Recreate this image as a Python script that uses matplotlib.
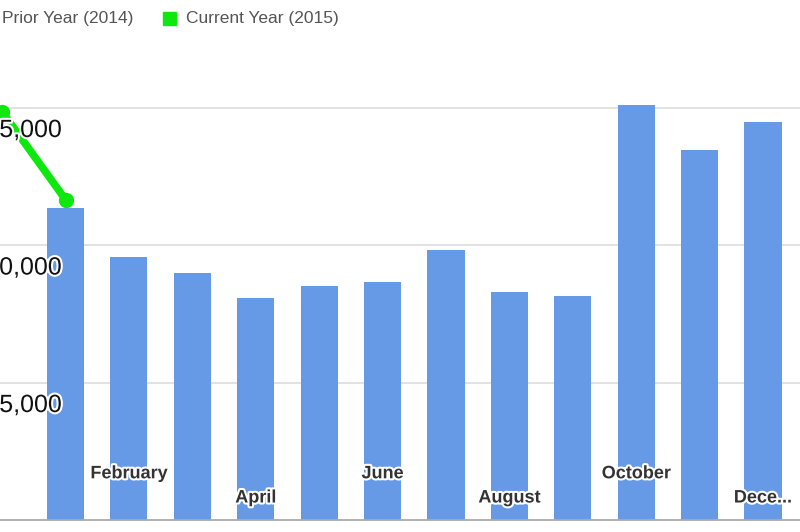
import matplotlib
matplotlib.use("Agg")
import matplotlib.pyplot as plt
import matplotlib.patheffects as pe
from matplotlib.patches import Rectangle
import numpy as np

plt.rcParams["font.family"] = ["Liberation Sans", "DejaVu Sans"]

# data
months = ["January", "February", "March", "April", "May", "June",
          "July", "August", "September", "October", "November", "December"]
shown_labels = ["", "February", "", "April", "", "June",
                "", "August", "", "October", "", "Dece..."]
prior_year = [11350, 9560, 8980, 8070, 8510, 8650,
              9820, 8290, 8150, 15100, 13450, 14480]
current_year = [14850, 11650]          # last point before January, then January
y_ticks = [5000, 10000, 15000]
y_tick_labels = ["5,000", "10,000", "15,000"]

W, H = 800, 532
fig = plt.figure(figsize=(W / 100, H / 100), dpi=100)
ax = fig.add_axes([0, 12 / H, 1, 520 / H])

x = np.arange(len(months))
ax.bar(x, prior_year, width=0.585, color="#6699e6", zorder=2)

xc = np.arange(len(current_year)) - 1
ax.plot(xc, current_year, color="#0ee80e", lw=5.5, marker="o", ms=10,
        solid_capstyle="round", zorder=4)

ax.set_xlim(-1.033, 11.583)
ax.set_ylim(0, 520 / 137.5 * 5000)
ax.set_yticks(y_ticks)
ax.set_yticklabels([])
ax.set_xticks([])
ax.tick_params(left=False, bottom=False)
ax.grid(axis="y", color="#dddddd", lw=1.2, zorder=0)
for s in ["top", "right", "left"]:
    ax.spines[s].set_visible(False)
ax.spines["bottom"].set_color("#aaaaaa")
ax.spines["bottom"].set_linewidth(1.3)

halo = [pe.withStroke(linewidth=3, foreground="white")]

# y labels sit below their gridline, inside the plot
for v, lab in zip(y_ticks, y_tick_labels):
    ax.text(62 / W, v - 820, lab, transform=ax.get_yaxis_transform(),
            ha="right", va="center", fontsize=18, color="#111111",
            path_effects=halo, zorder=5)

# staggered month labels
for i, lab in enumerate(shown_labels):
    if not lab:
        continue
    yy = 1680 if (i // 2) % 2 == 0 else 800
    ax.text(i, yy, lab, ha="center", va="center", fontsize=13,
            fontweight="bold", color="#333333", path_effects=halo, zorder=5)

# legend
fig.text(133 / W, 1 - 18 / H, "Prior Year (2014)", ha="right", va="center",
         fontsize=12.5, color="#555555")
fig.patches.append(Rectangle((163 / W, 1 - 25 / H), 13 / W, 13 / H,
                             transform=fig.transFigure, color="#0ee80e"))
fig.text(186 / W, 1 - 18 / H, "Current Year (2015)", ha="left", va="center",
         fontsize=12.5, color="#555555")

fig.savefig("out.png", dpi=100)
